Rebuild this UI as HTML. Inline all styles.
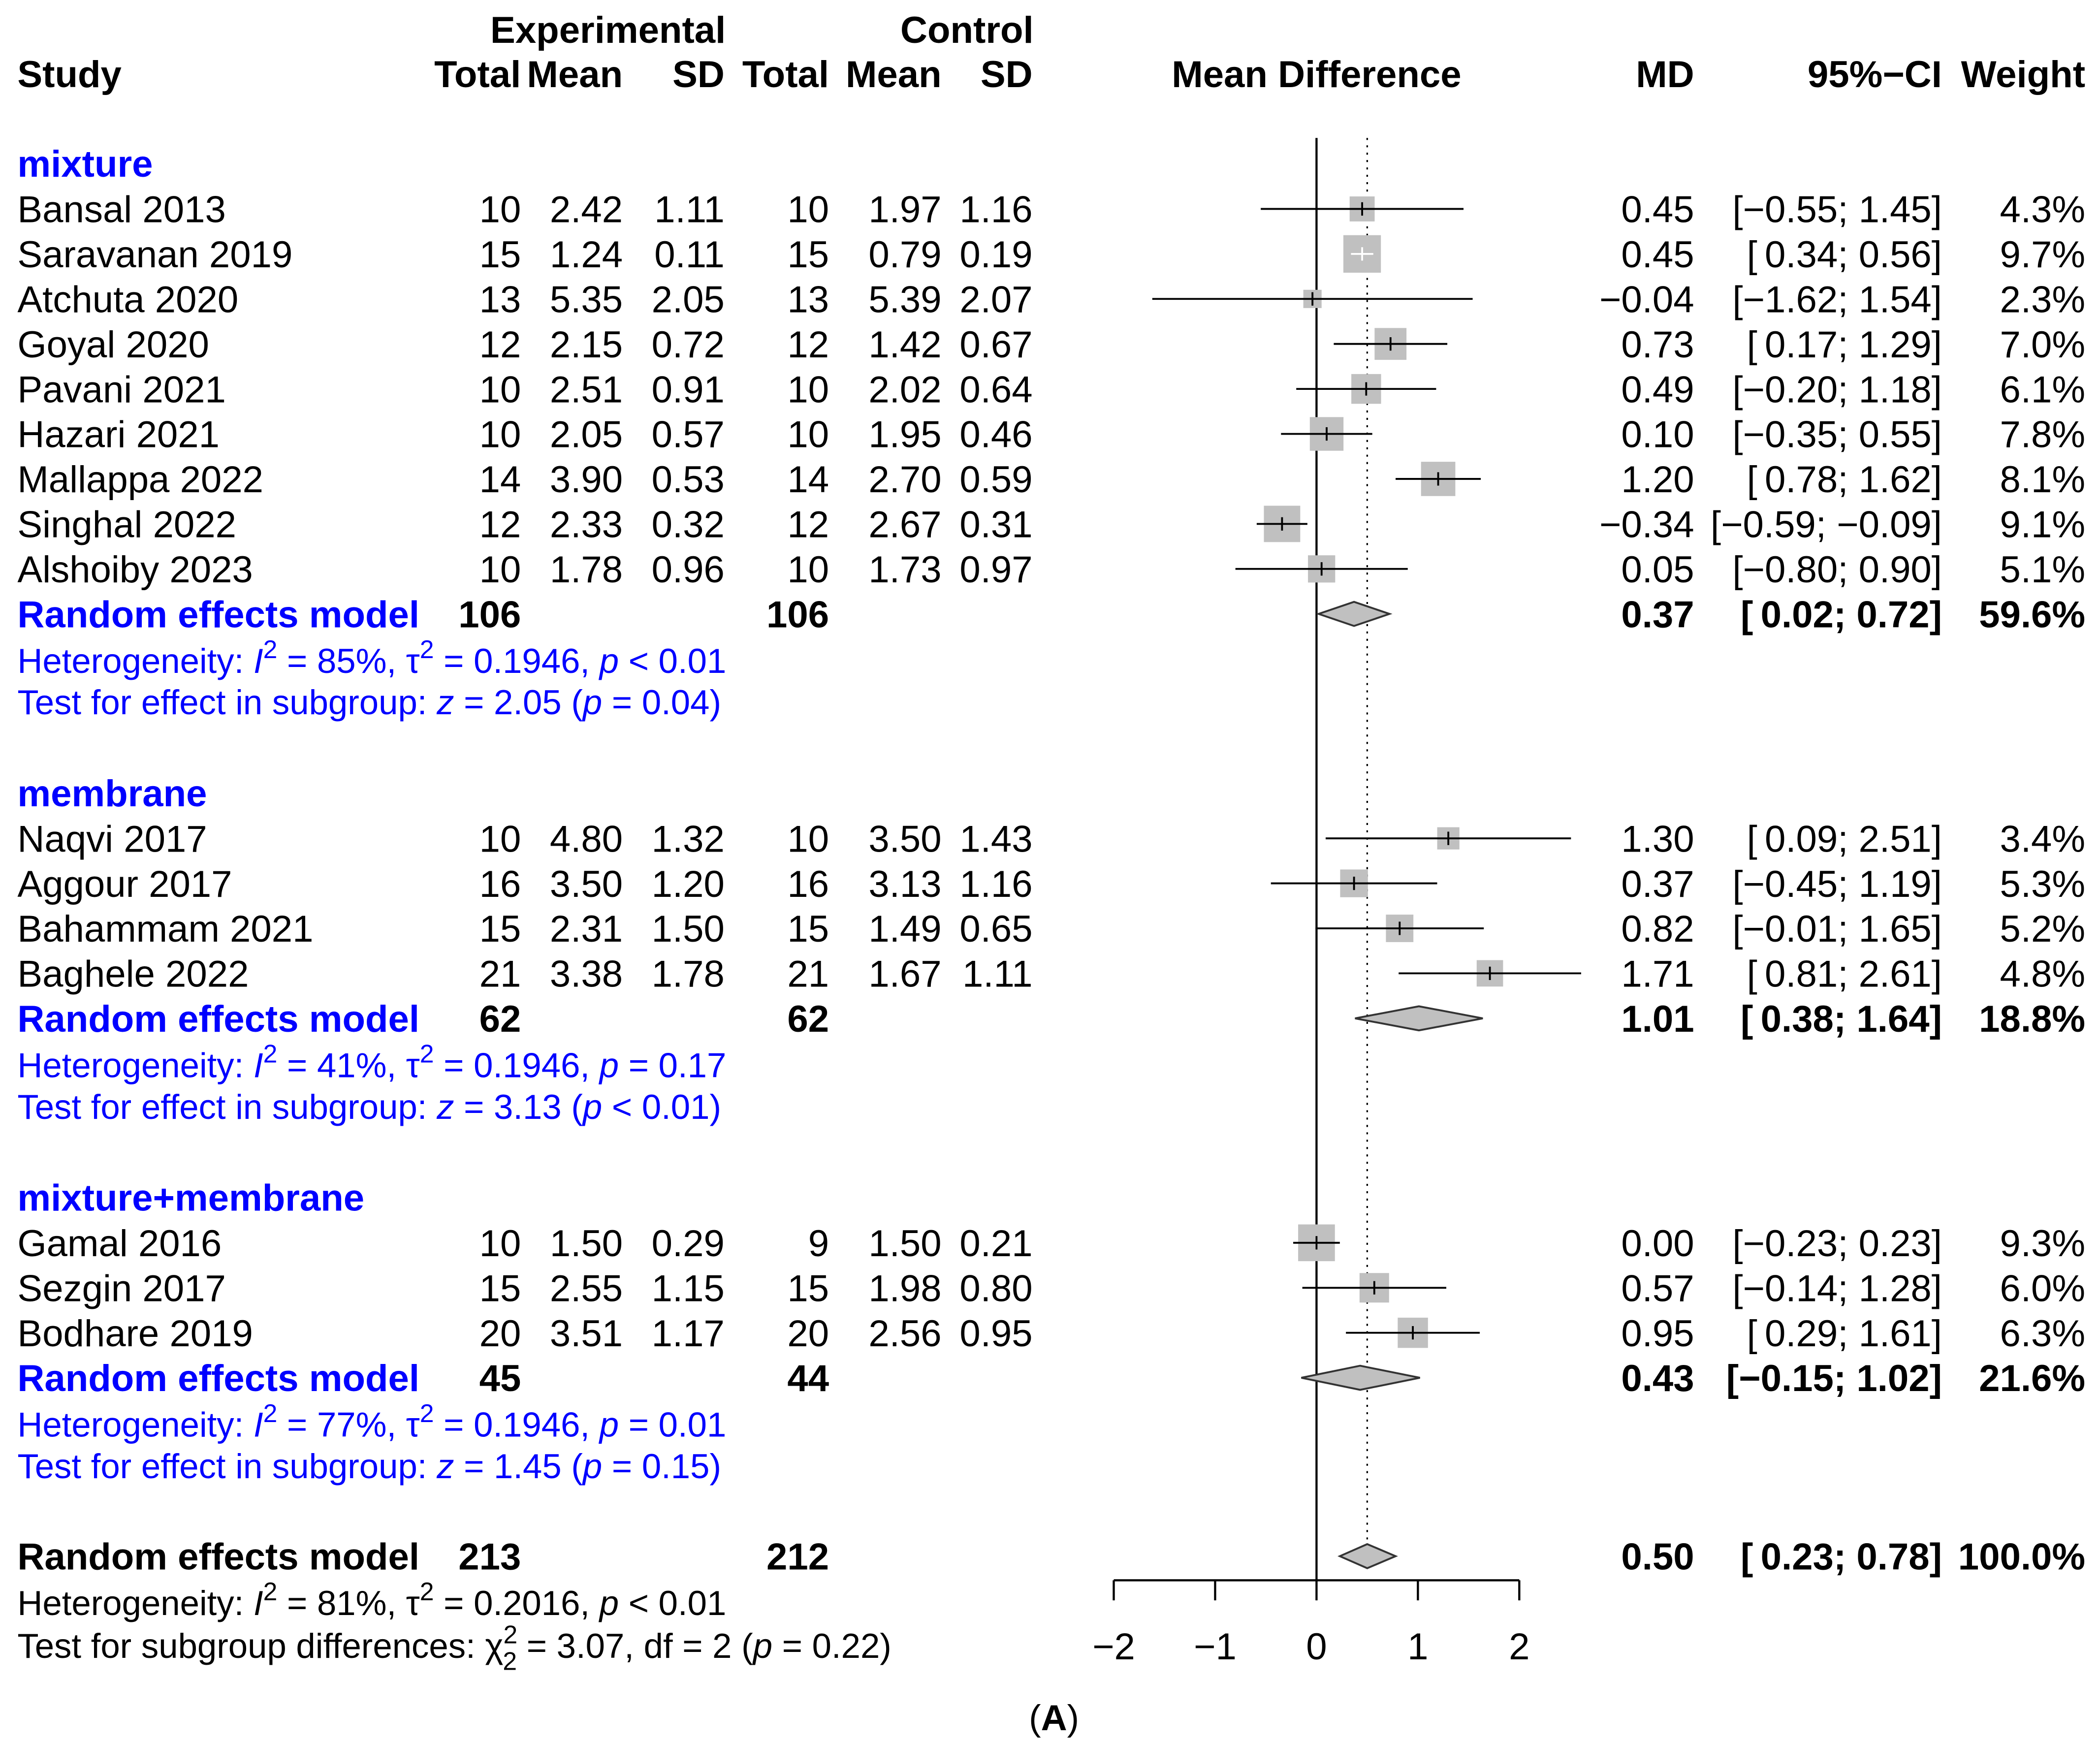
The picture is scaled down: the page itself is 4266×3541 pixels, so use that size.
<!DOCTYPE html>
<html><head><meta charset="utf-8"><style>
html,body{margin:0;padding:0;background:#fff}
svg{display:block}
text{font-family:"Liberation Sans",Arial,sans-serif}
</style></head><body>
<svg id="chart" xmlns="http://www.w3.org/2000/svg" width="4266" height="3541" viewBox="0 0 1568 1301.5">
<rect width="1568" height="1301.5" fill="#fff"/>
<g id="g" font-size="28"></g>
</svg>
<script>
const studies=["Bansal 2013","Saravanan 2019","Atchuta 2020","Goyal 2020","Pavani 2021","Hazari 2021","Mallappa 2022","Singhal 2022","Alshoiby 2023","Naqvi 2017","Aggour 2017","Bahammam 2021","Baghele 2022","Gamal 2016","Sezgin 2017","Bodhare 2019"];
const groupOf=[0,0,0,0,0,0,0,0,0,1,1,1,1,2,2,2];
const expN=[10,15,13,12,10,10,14,12,10,10,16,15,21,10,15,20];
const expMean=["2.42","1.24","5.35","2.15","2.51","2.05","3.90","2.33","1.78","4.80","3.50","2.31","3.38","1.50","2.55","3.51"];
const expSD=["1.11","0.11","2.05","0.72","0.91","0.57","0.53","0.32","0.96","1.32","1.20","1.50","1.78","0.29","1.15","1.17"];
const ctlN=[10,15,13,12,10,10,14,12,10,10,16,15,21,9,15,20];
const ctlMean=["1.97","0.79","5.39","1.42","2.02","1.95","2.70","2.67","1.73","3.50","3.13","1.49","1.67","1.50","1.98","2.56"];
const ctlSD=["1.16","0.19","2.07","0.67","0.64","0.46","0.59","0.31","0.97","1.43","1.16","0.65","1.11","0.21","0.80","0.95"];
const md=[0.45,0.45,-0.04,0.73,0.49,0.10,1.20,-0.34,0.05,1.30,0.37,0.82,1.71,0.00,0.57,0.95];
const lo=[-0.55,0.34,-1.62,0.17,-0.20,-0.35,0.78,-0.59,-0.80,0.09,-0.45,-0.01,0.81,-0.23,-0.14,0.29];
const hi=[1.45,0.56,1.54,1.29,1.18,0.55,1.62,-0.09,0.90,2.51,1.19,1.65,2.61,0.23,1.28,1.61];
const weight=[4.3,9.7,2.3,7.0,6.1,7.8,8.1,9.1,5.1,3.4,5.3,5.2,4.8,9.3,6.0,6.3];
const groupNames=["mixture","membrane","mixture+membrane"];
const groupExpN=[106,62,45];
const groupCtlN=[106,62,44];
const groupMD=[0.37,1.01,0.43];
const groupLo=[0.02,0.38,-0.15];
const groupHi=[0.72,1.64,1.02];
const groupW=["59.6%","18.8%","21.6%"];
const groupI2=["85%","41%","77%"];
const groupTau=["0.1946","0.1946","0.1946"];
const groupP=["p < 0.01","p = 0.17","p = 0.01"];
const groupZ=["2.05","3.13","1.45"];
const groupZp=["p = 0.04","p < 0.01","p = 0.15"];
const overallMD=0.50, overallLo=0.23, overallHi=0.78;
const ticks=[-2,-1,0,1,2];

const NS="http://www.w3.org/2000/svg";
const g=document.getElementById('g');
const X=v=>983+v*75.7;
function el(tag,attrs,parent){const e=document.createElementNS(NS,tag);for(const k in attrs)e.setAttribute(k,attrs[k]);(parent||g).appendChild(e);return e;}
function txt(s,x,y,o){o=o||{};const e=el('text',{x:x,y:y+10,'text-anchor':o.a||'start','font-weight':o.b?'bold':'normal',fill:o.c||'#000','font-size':o.fs||28});e.innerHTML=s;return e;}
const f2=v=>(v<0?'\u2212':'')+Math.abs(v).toFixed(2);
const ci=(l,h)=>{const a=f2(l),b=f2(h);return '['+(l<0?'':'\u2009')+a+'; '+b+']';};
const BLUE='#0000ff';

let t;
t=txt('Experimental',454,22,{a:'middle',b:1});


t=txt('Control',722,22,{a:'middle',b:1});


const hdr=[['Study',13,'start'],['Total',389,'end'],['Mean',465,'end'],['SD',541,'end'],['Total',619,'end'],['Mean',703,'end'],['SD',771,'end'],['Mean Difference',983,'middle'],['MD',1265,'end'],['95%\u2212CI',1450,'end'],['Weight',1557,'end']];
hdr.forEach(h=>{const e=txt(h[0],h[1],55,{a:h[2],b:1});

});

let ln=el('line',{x1:X(0),x2:X(0),y1:103,y2:1180,stroke:'#000','stroke-width':1.6});


ln=el('line',{x1:X(overallMD),x2:X(overallMD),y1:103,y2:1152,stroke:'#000','stroke-width':1.2,'stroke-dasharray':'1.5 4'});



const groupStart=[122,592,894];
function diamond(m,l,h,y,name){const p=el('polygon',{points:`${X(l)},${y} ${X(m)},${y-9} ${X(h)},${y} ${X(m)},${y+9}`,fill:'#c0c0c0',stroke:'#333','stroke-width':1.4});

}

for(let gi=0;gi<3;gi++){
  let y=groupStart[gi];
  t=txt(groupNames[gi],13,y,{b:1,c:BLUE});
  
  
  y+=34;
  for(let i=0;i<studies.length;i++){ if(groupOf[i]!==gi) continue;
    const row=[[studies[i],13,'start'],[expN[i],389,'end'],[expMean[i],465,'end'],[expSD[i],541,'end'],[ctlN[i],619,'end'],[ctlMean[i],703,'end'],[ctlSD[i],771,'end'],[f2(md[i]),1265,'end'],[ci(lo[i],hi[i]),1450,'end'],[weight[i].toFixed(1)+'%',1557,'end']];
    row.forEach(r=>{const e=txt(r[0],r[1],y,{a:r[2]});
      
      });
    const s=9*Math.sqrt(weight[i]);
    const sq=el('rect',{x:X(md[i])-s/2,y:y-s/2,width:s,height:s,fill:'#c0c0c0'});
    
    
    const inside=(X(lo[i])>X(md[i])-s/2);
    const c=inside?'#fff':'#000';
    const l=el('line',{x1:X(lo[i]),x2:X(hi[i]),y1:y,y2:y,stroke:c,'stroke-width':1.4});
    
    
    const tk=el('line',{x1:X(md[i]),x2:X(md[i]),y1:y-5,y2:y+5,stroke:c,'stroke-width':1.4});
    
    
    y+=33.6;
  }
  const ry=y;
  const rr=[['Random effects model',13,'start',BLUE],[groupExpN[gi],389,'end','#000'],[groupCtlN[gi],619,'end','#000'],[f2(groupMD[gi]),1265,'end','#000'],[ci(groupLo[gi],groupHi[gi]),1450,'end','#000'],[groupW[gi],1557,'end','#000']];
  rr.forEach(r=>{const e=txt(r[0],r[1],ry,{a:r[2],b:1,c:r[3]});
    
    });
  diamond(groupMD[gi],groupLo[gi],groupHi[gi],ry,'subgroup-diamond');
  t=txt(`Heterogeneity: <tspan font-style="italic">I</tspan><tspan dy="-11" font-size="19">2</tspan><tspan dy="11"> = ${groupI2[gi]}, \u03c4</tspan><tspan dy="-11" font-size="19">2</tspan><tspan dy="11"> = ${groupTau[gi]}, </tspan><tspan font-style="italic">p</tspan> ${groupP[gi].slice(2)}`,13,ry+34,{c:BLUE,fs:26});
  
  
  t=txt(`Test for effect in subgroup: <tspan font-style="italic">z</tspan> = ${groupZ[gi]} (<tspan font-style="italic">p</tspan> ${groupZp[gi].slice(2)})`,13,ry+65,{c:BLUE,fs:26});
  
  
}
const oy=1162;
[['Random effects model',13,'start'],['213',389,'end'],['212',619,'end'],[f2(overallMD),1265,'end'],[ci(overallLo,overallHi),1450,'end'],['100.0%',1557,'end']].forEach(r=>{const e=txt(r[0],r[1],oy,{a:r[2],b:1});
  
  });
diamond(overallMD,overallLo,overallHi,oy,'overall-diamond');
t=txt(`Heterogeneity: <tspan font-style="italic">I</tspan><tspan dy="-11" font-size="19">2</tspan><tspan dy="11"> = 81%, \u03c4</tspan><tspan dy="-11" font-size="19">2</tspan><tspan dy="11"> = 0.2016, </tspan><tspan font-style="italic">p</tspan> &lt; 0.01`,13,1196,{fs:26});


t=txt(`Test for subgroup differences: \u03c7<tspan dy="-11" font-size="19">2</tspan><tspan dx="-11" dy="20" font-size="19">2</tspan><tspan dy="-9"> = 3.07, df = 2 (</tspan><tspan font-style="italic">p</tspan> = 0.22)`,13,1228,{fs:26});



const ax=el('line',{x1:X(ticks[0]),x2:X(ticks[ticks.length-1]),y1:1180,y2:1180,stroke:'#000','stroke-width':1.6});


ticks.forEach(v=>{const k=el('line',{x1:X(v),x2:X(v),y1:1180,y2:1195,stroke:'#000','stroke-width':1.6});
  
  
  const e=txt(v<0?'\u2212'+Math.abs(v):String(v),X(v),1229,{a:'middle'});
  
  });
t=el('text',{x:787,y:1292,'text-anchor':'middle','font-size':27,'font-family':'Liberation Serif, serif'});
t.innerHTML='(<tspan font-weight="bold">A</tspan>)';


</script>
</body></html>
